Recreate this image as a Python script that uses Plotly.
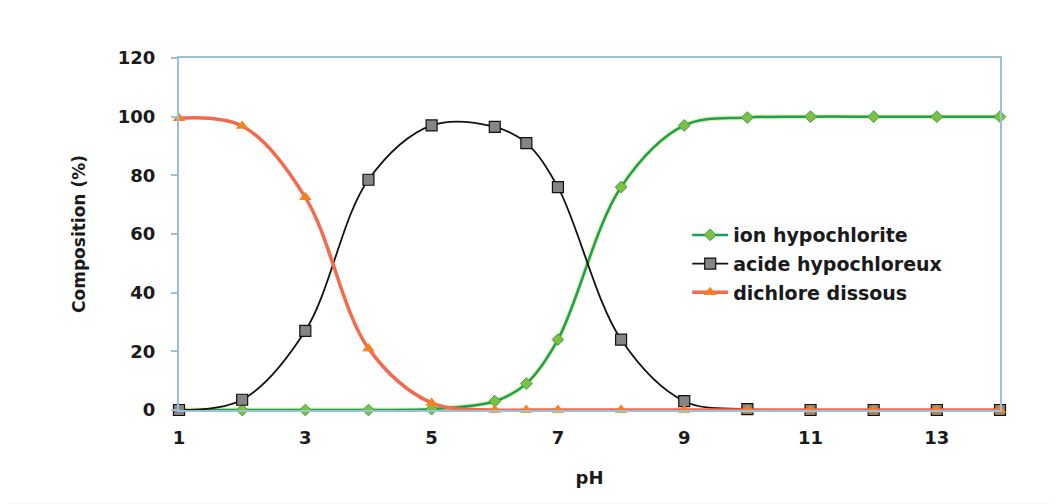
import plotly.graph_objects as go

ph = [1, 2, 3, 4, 5, 6, 6.5, 7, 8, 9, 10, 11, 12, 13, 14]
ion_hypochlorite = [0, 0, 0, 0, 0.3, 3, 9, 24, 76, 97, 99.7, 100, 100, 100, 100]
acide_hypochloreux = [0, 3.5, 27, 78.5, 97, 96.5, 91, 76, 24, 3, 0.3, 0, 0, 0, 0]
dichlore_dissous = [99.5, 96.8, 72.5, 21, 2.4, 0, 0, 0, 0, 0, 0, 0, 0, 0, 0]

x_ticks = [1, 3, 5, 7, 9, 11, 13]
y_ticks = [0, 20, 40, 60, 80, 100, 120]

FONT = "DejaVu Sans, Arial, sans-serif"
TXT = "#1a1a1a"
AXIS_COLOR = "#9cc0d6"

fig = go.Figure()

# soft yellow halo under the green curve (as in the source image)
fig.add_trace(go.Scatter(
    x=ph, y=ion_hypochlorite, showlegend=False, hoverinfo="skip",
    mode="lines", line=dict(color="rgba(222,226,100,0.55)", width=5, shape="spline", smoothing=1),
    cliponaxis=False,
))
fig.add_trace(go.Scatter(
    x=ph, y=ion_hypochlorite, name="ion hypochlorite", legendgroup="a",
    mode="lines+markers", line=dict(color="#17a05a", width=2.5, shape="spline", smoothing=1),
    marker=dict(symbol="diamond", size=9, color="#7cc242", line=dict(color="#3aa048", width=1)),
    cliponaxis=False,
))
fig.add_trace(go.Scatter(
    x=ph, y=acide_hypochloreux, name="acide hypochloreux", legendgroup="b",
    mode="lines+markers", line=dict(color="#111111", width=1.8, shape="spline", smoothing=1),
    marker=dict(symbol="square", size=11, color="#858585", line=dict(color="#111111", width=1.2)),
    cliponaxis=False,
))
fig.add_trace(go.Scatter(
    x=ph, y=dichlore_dissous, name="dichlore dissous", legendgroup="c",
    mode="lines+markers", line=dict(color="#f46a4e", width=3.5, shape="spline", smoothing=1),
    marker=dict(symbol="triangle-up", size=11, color="#f5821f", line=dict(color="#f5821f", width=0)),
    cliponaxis=False,
))

fig.update_layout(
    width=1050, height=496,
    margin=dict(l=171, r=58, t=50, b=94),
    paper_bgcolor="white", plot_bgcolor="white",
    font=dict(family=FONT, size=18, color=TXT),
    showlegend=True,
    legend=dict(
        x=0.619, y=0.551, xanchor="left", yanchor="top",
        bgcolor="rgba(0,0,0,0)", font=dict(family=FONT, size=19, color=TXT, weight="bold"),
        tracegroupgap=1, itemwidth=36,
    ),
    xaxis=dict(
        range=[1, 14], tickmode="array", tickvals=x_ticks, ticktext=[str(v) for v in x_ticks],
        showgrid=False, zeroline=False, showline=True, linecolor=AXIS_COLOR, linewidth=2, mirror=True,
        ticks="", ticklabelstandoff=10,
        tickfont=dict(family=FONT, size=18, color=TXT, weight="bold"),
        title=dict(text="pH", font=dict(family=FONT, size=18, color=TXT, weight="bold"), standoff=25),
    ),
    yaxis=dict(
        range=[0, 120], tickmode="array", tickvals=y_ticks, ticktext=[str(v) for v in y_ticks],
        showgrid=False, zeroline=False, showline=True, linecolor=AXIS_COLOR, linewidth=2, mirror=True,
        ticks="outside", ticklen=6, tickcolor=AXIS_COLOR, tickwidth=1.5, ticklabelstandoff=12,
        tickfont=dict(family=FONT, size=18, color=TXT, weight="bold"),
        title=dict(text="Composition (%)", font=dict(family=FONT, size=17, color=TXT, weight="bold"), standoff=28),
    ),
    shapes=[dict(type="rect", xref="paper", yref="paper", x0=-0.25, x1=1.1, y0=-0.265, y1=-0.30,
                 fillcolor="#f1f1f1", line=dict(width=0), layer="below")],
)

fig.write_html("out.html")
